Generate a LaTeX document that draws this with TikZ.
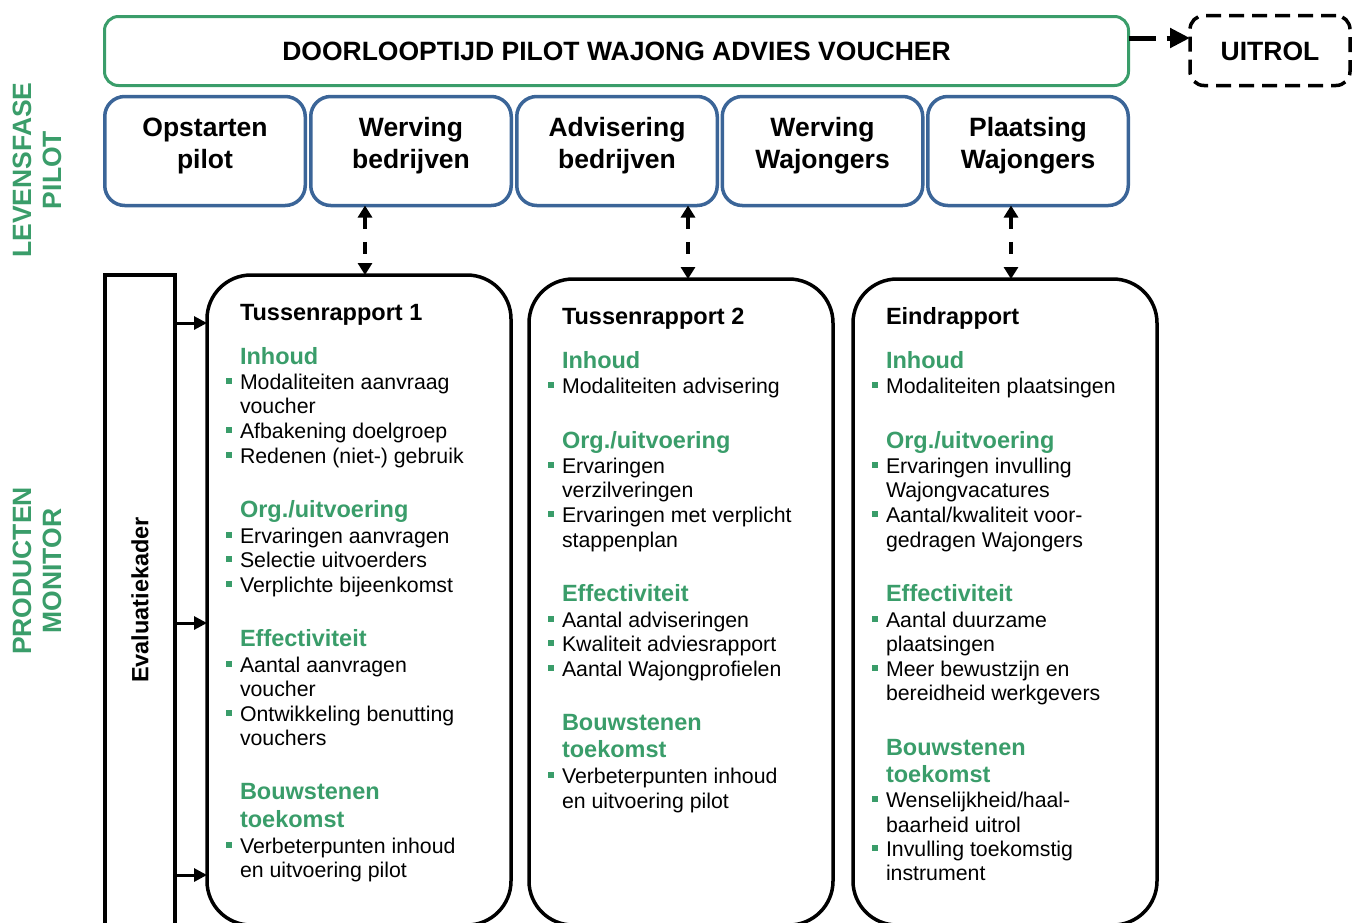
\documentclass[tikz,border=0pt]{standalone}
\usepackage{fontspec}
\setmainfont{Liberation Sans}
\usetikzlibrary{arrows.meta,calc}
\definecolor{gr}{RGB}{58,157,106}
\definecolor{bl}{RGB}{59,101,152}
\newcommand\Bi[4]{\node[body] (#1) at (#2,#3) {#4};
  \fill[gr] ([xshift=-14pt,yshift=5pt]#1.base west) rectangle ++(6pt,6pt);}
\newcommand\Bc[4]{\node[body] (#1) at (#2,#3) {#4};}
\newcommand\Hd[4]{\node[head] (#1) at (#2,#3) {#4};}
\begin{document}
\begin{tikzpicture}[x=1pt,y=-1pt,
  every node/.style={inner sep=0pt,outer sep=0pt},
  topbox/.style={draw=gr,line width=3pt,rounded corners=14pt,minimum width=1024pt,minimum height=69pt},
  uitbox/.style={draw=black,line width=3.5pt,rounded corners=14pt,dash pattern=on 15pt off 8pt,minimum width=160pt,minimum height=70pt},
  phase/.style={draw=bl,line width=3.5pt,rounded corners=20pt,minimum width=200.5pt,minimum height=109pt},
  repbox/.style={draw=black,line width=3.5pt,rounded corners=44pt,minimum width=304pt},
  evbox/.style={draw=black,line width=3.5pt,minimum width=70pt,minimum height=665pt},
  bigtxt/.style={font=\fontsize{26.5}{32}\selectfont\bfseries,align=center},
  lab/.style={font=\fontsize{26.5}{30}\selectfont\bfseries,text=gr,rotate=90},
  body/.style={anchor=base west,font=\fontsize{21.3}{24}\selectfont},
  head/.style={anchor=base west,font=\fontsize{23.5}{27}\selectfont\bfseries,text=gr},
  rtitle/.style={anchor=base west,font=\fontsize{23.5}{27}\selectfont\bfseries},
  dblarrow/.style={line width=4pt,dash pattern=on 12pt off 13pt,{Triangle[length=12pt,width=14pt]}-{Triangle[length=12pt,width=14pt]}},
  larrow/.style={line width=3pt,-{Triangle[length=13pt,width=13pt]}},
  tarrow/.style={line width=5pt,dash pattern=on 27pt off 11pt,-{Triangle[length=20pt,width=19pt]}}
]
\useasboundingbox (0,0) rectangle (1360,922);

% top bar
\node[topbox] (top) at (616.5,51) {};
\node[bigtxt] (topt) at (616.5,51) {DOORLOOPTIJD PILOT WAJONG ADVIES VOUCHER};
\node[uitbox] (uit) at (1270,50.5) {};
\node[bigtxt] (uitt) at (1270,51) {UITROL};
\coordinate (yt) at (0,38);
\draw[tarrow] (top.east |- yt) -- (uit.west |- yt);

% phases
\node[phase] (p1) at (205,151) {};
\node[phase] (p2) at (411,151) {};
\node[phase] (p3) at (617,151) {};
\node[phase] (p4) at (822.5,151) {};
\node[phase] (p5) at (1028,151) {};
\node[bigtxt] (p1t) at (205,146) {Opstarten\\pilot};
\node[bigtxt] (p2t) at (411,146) {Werving\\bedrijven};
\node[bigtxt] (p3t) at (617,146) {Advisering\\bedrijven};
\node[bigtxt] (p4t) at (822.5,146) {Werving\\Wajongers};
\node[bigtxt] (p5t) at (1028,146) {Plaatsing\\Wajongers};

% side labels
\node[lab] (lev) at (22,170) {LEVENSFASE};
\node[lab] (pil) at (52,170) {PILOT};
\node[lab] (pro) at (22,571) {PRODUCTEN};
\node[lab] (mon) at (52,571) {MONITOR};

% report boxes
\node[repbox,minimum height=650pt] (r1) at (359,600) {};
\node[repbox,minimum height=646pt] (r2) at (681,602) {};
\node[repbox,minimum height=646pt] (r3) at (1005,602) {};
\node[evbox] (ev) at (140,607.5) {};
\node[rtitle,anchor=center,rotate=90] (evt) at (140,600) {Evaluatiekader};

% vertical arrows
\coordinate (x1) at (365,0);
\coordinate (x2) at (688,0);
\coordinate (x3) at (1011,0);
\draw[dblarrow] (x1 |- p2.south) -- (x1 |- r1.north);
\draw[dblarrow] (x2 |- p3.south) -- (x2 |- r2.north);
\draw[dblarrow] (x3 |- p5.south) -- (x3 |- r3.north);

% left arrows
\coordinate (ya) at (0,323);
\coordinate (yb) at (0,623);
\coordinate (yc) at (0,875);
\draw[larrow] (ev.east |- ya) -- (r1.west |- ya);
\draw[larrow] (ev.east |- yb) -- (r1.west |- yb);
\draw[larrow] (ev.east |- yc) -- (r1.west |- yc);

% box 1
\node[rtitle] (a0) at (240,320) {Tussenrapport 1};
\Hd{a1}{240}{364}{Inhoud}
\Bi{a2}{240}{389}{Modaliteiten aanvraag}
\Bc{a3}{240}{413}{voucher}
\Bi{a4}{240}{438}{Afbakening doelgroep}
\Bi{a5}{240}{463}{Redenen (niet-) gebruik}
\Hd{a6}{240}{517}{Org./uitvoering}
\Bi{a7}{240}{543}{Ervaringen aanvragen}
\Bi{a8}{240}{567}{Selectie uitvoerders}
\Bi{a9}{240}{592}{Verplichte bijeenkomst}
\Hd{a10}{240}{646}{Effectiviteit}
\Bi{a11}{240}{672}{Aantal aanvragen}
\Bc{a12}{240}{696}{voucher}
\Bi{a13}{240}{721}{Ontwikkeling benutting}
\Bc{a14}{240}{745}{vouchers}
\Hd{a15}{240}{799}{Bouwstenen}
\Hd{a16}{240}{827}{toekomst}
\Bi{a17}{240}{853}{Verbeterpunten inhoud}
\Bc{a18}{240}{877}{en uitvoering pilot}

% box 2
\node[rtitle] (b0) at (562,324) {Tussenrapport 2};
\Hd{b1}{562}{368}{Inhoud}
\Bi{b2}{562}{393}{Modaliteiten advisering}
\Hd{b3}{562}{448}{Org./uitvoering}
\Bi{b4}{562}{473}{Ervaringen}
\Bc{b5}{562}{497}{verzilveringen}
\Bi{b6}{562}{522}{Ervaringen met verplicht}
\Bc{b7}{562}{547}{stappenplan}
\Hd{b8}{562}{601}{Effectiviteit}
\Bi{b9}{562}{627}{Aantal adviseringen}
\Bi{b10}{562}{651}{Kwaliteit adviesrapport}
\Bi{b11}{562}{676}{Aantal Wajongprofielen}
\Hd{b12}{562}{730}{Bouwstenen}
\Hd{b13}{562}{757}{toekomst}
\Bi{b14}{562}{783}{Verbeterpunten inhoud}
\Bc{b15}{562}{808}{en uitvoering pilot}

% box 3
\node[rtitle] (c0) at (886,324) {Eindrapport};
\Hd{c1}{886}{368}{Inhoud}
\Bi{c2}{886}{393}{Modaliteiten plaatsingen}
\Hd{c3}{886}{448}{Org./uitvoering}
\Bi{c4}{886}{473}{Ervaringen invulling}
\Bc{c5}{886}{497}{Wajongvacatures}
\Bi{c6}{886}{522}{Aantal/kwaliteit voor-}
\Bc{c7}{886}{547}{gedragen Wajongers}
\Hd{c8}{886}{601}{Effectiviteit}
\Bi{c9}{886}{627}{Aantal duurzame}
\Bc{c10}{886}{651}{plaatsingen}
\Bi{c11}{886}{676}{Meer bewustzijn en}
\Bc{c12}{886}{700}{bereidheid werkgevers}
\Hd{c13}{886}{755}{Bouwstenen}
\Hd{c14}{886}{782}{toekomst}
\Bi{c15}{886}{807}{Wenselijkheid/haal-}
\Bc{c16}{886}{832}{baarheid uitrol}
\Bi{c17}{886}{856}{Invulling toekomstig}
\Bc{c18}{886}{880}{instrument}
\end{tikzpicture}
\end{document}
